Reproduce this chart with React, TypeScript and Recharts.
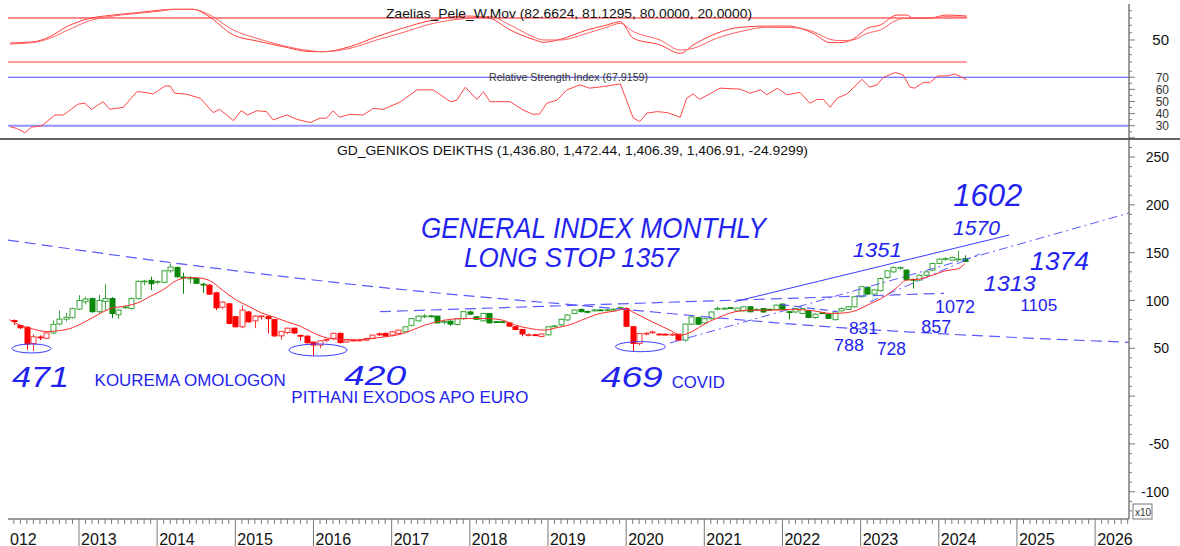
import React from "react";
import {
  Bar,
  ComposedChart,
  Line,
  ReferenceDot,
  ReferenceLine,
  XAxis,
  YAxis,
} from "recharts";

// months are counted from Jan 2013 (k = 0); first candle is Mar 2012
const firstMonth = -10;

// monthly candles [open, high, low, close], index level / 10
const ohlc: [number, number, number, number][] = [
  // 2012 (Mar - Dec)
  [79, 80, 74.5, 78], [73.9, 74.5, 70, 71.5], [72, 73, 48.5, 54.5], [55, 64.5, 47.1, 62],
  [61.8, 63.5, 58.5, 61.2], [60.5, 66.5, 59.5, 66], [66, 79, 65, 75], [75.5, 89.5, 74, 80.5],
  [80.5, 87, 78, 82.5], [82, 92.5, 81, 91.5],
  // 2013
  [91, 105.5, 90, 100], [98.6, 104, 96, 101.5], [102, 103, 87, 88.3], [88.3, 106, 86, 100],
  [99, 117, 89, 102], [102, 103.5, 81.5, 86.4], [85, 91, 81, 90], [92.5, 95, 91, 93.2],
  [91.5, 103, 90.5, 102], [102, 121, 101, 120], [119.5, 121.5, 116, 120.3], [121, 124.8, 110.8, 117.5],
  // 2014
  [119, 121, 117, 119.8], [119, 131.5, 118, 131], [131, 138.7, 129, 135], [134.5, 135.5, 124, 124.8],
  [124.5, 129, 107, 124], [123, 125.5, 118, 123.5], [123, 124, 117, 118], [117, 118.5, 108, 116.5],
  [116, 117, 106, 106.6], [108, 109, 90, 92.3], [93, 99, 91, 98.3], [96.5, 97.5, 75, 76],
  // 2015
  [83, 84, 72, 72.5], [72.5, 95, 71, 90], [88, 89, 77, 77.6], [78.7, 84.5, 71, 83.6],
  [83.5, 84.5, 80, 83.8], [83, 84, 65.5, 81], [80, 80.5, 62, 63], [63, 68, 59, 67.6],
  [66.5, 71.5, 65, 71], [71, 71.5, 65, 66], [63.5, 64, 58, 63.3], [62.7, 63.5, 55, 55.8],
  // 2016
  [56.4, 57, 42, 53.4], [53.4, 58.5, 50, 57.8], [58.8, 60.5, 56.5, 59.2], [60.4, 66.5, 59, 65.6],
  [65.6, 66.5, 55, 56], [56.6, 59.5, 55.5, 59], [58.6, 59.5, 57.5, 58.4], [58.4, 60, 57, 58.7],
  [58.5, 61, 57.5, 60.3], [60.4, 64.5, 59.5, 63.8], [65, 66.5, 63, 64.8], [65.6, 66.5, 62, 62.9],
  // 2017
  [63.8, 67.8, 62.5, 67.3], [65.6, 69.5, 64.5, 69], [67.3, 73, 66.5, 72.5], [74, 81.5, 73, 81],
  [78.7, 84.5, 78, 83.6], [83.5, 86, 81.5, 83.8], [83.8, 84.5, 82.5, 83.5], [83.6, 84, 76, 76.6],
  [77.6, 80, 75, 77.9], [78.4, 79, 73.5, 75.3], [74.8, 81.5, 74, 81], [81, 89, 80, 88.3],
  // 2018
  [88, 89.5, 85, 85.7], [83, 83.5, 79.5, 80.3], [78.7, 87, 78, 86.4], [86.4, 87, 76, 76.6],
  [77.8, 78.5, 76.5, 77.6], [77.7, 78, 76.8, 77.5], [76.6, 77, 72.5, 73.2], [72.5, 73, 69, 69.7],
  [69.7, 70, 62.5, 65], [64, 65.5, 62.5, 64.2], [64.1, 65, 63, 63.9], [62.4, 65.5, 61.5, 65],
  // 2019
  [64, 73, 63.5, 72.5], [73, 74.5, 72, 73.4], [74.4, 81, 73.5, 80.3], [79.6, 85.5, 79, 84.8],
  [86.4, 91, 85.5, 90], [90.6, 91.5, 87.5, 88.3], [88.5, 89.5, 86.5, 87.8], [89.8, 91, 88.5, 90],
  [90.1, 90.8, 89.3, 89.9], [89.9, 91.5, 88.8, 90.2], [90.6, 92, 89.5, 90.8], [92.4, 94, 91.5, 92.6],
  // 2020
  [91.5, 93, 72, 73], [72.5, 73.5, 46.9, 55.1], [55.1, 66, 53, 65.5], [65.3, 67, 63.5, 65.7],
  [66.8, 68.5, 65, 67.1], [64.8, 65.5, 64, 64.6], [64.7, 65.2, 63.8, 64.5], [64.4, 66, 63, 64.6],
  [64.7, 65, 57.5, 58.5], [58.5, 76, 57, 75.2], [75.2, 83.5, 74.5, 82.8], [82, 83, 74.5, 75.2],
  // 2021
  [76.6, 82, 75.5, 81], [81, 88.5, 80, 88], [91.4, 93.5, 89.5, 91.7], [91.5, 93, 90, 91.8],
  [92.4, 93, 91.5, 92.2], [89, 92.5, 88, 92], [89.2, 94, 88.5, 93.4], [93.4, 94, 87.5, 88.2],
  [90.4, 92, 89, 90.6], [91.5, 92, 87, 88], [90.7, 91.5, 89.8, 90.5], [90.6, 95.8, 90, 95.1],
  // 2022
  [96.2, 97, 90, 90.6], [88.2, 89, 80, 88], [88, 92, 87, 91.6], [86.4, 92, 85.5, 91.6],
  [89.2, 90, 81.5, 82.2], [82.2, 86.5, 81, 85.7], [87.1, 88, 86, 86.9], [85.7, 86.5, 80.5, 81.3],
  [80, 88.5, 79, 88], [89.2, 92.5, 88.5, 91.6], [90.6, 94, 90, 93.4], [93.4, 104.5, 92.5, 103.9],
  // 2023
  [103.9, 115, 103, 114.4], [113.7, 114.5, 106, 106.7], [106.7, 112, 105, 111], [110.3, 124, 109.5, 123],
  [124, 131.5, 123, 131], [129.9, 135.5, 129, 134.4], [134.3, 135.5, 132, 134.5], [131.7, 132.5, 121, 121.9],
  [122, 123, 112.5, 121.9], [121.3, 127, 120.5, 126.4], [126.4, 130.5, 125.5, 129.9], [131.7, 139.5, 131, 138.7],
  // 2024
  [138.7, 144, 138, 143.2], [143.8, 145, 141.5, 143.9], [142.2, 145.8, 141.5, 145], [143, 152, 141.5, 143.3],
  [143.68, 147.24, 140.64, 140.69],
];

// months where the system was long (green candles)
const upTrend: [number, number][] = [[-4, 19], [50, 65], [72, 83], [93, 136]];

// weighted moving average on the price panel [month, value]
const maPts: [number, number][] = [
  [-10.7, 80], [-9, 74], [-7, 70], [-5, 67.5], [-3, 68.5], [-1, 71.5], [1, 78], [3, 85.5],
  [5, 92], [7, 94], [9, 97.5], [11, 104.5], [13, 111.5], [15, 121], [17, 124], [19, 123],
  [20, 121], [22, 111], [24, 101], [26, 94], [28, 87], [30, 82.5], [32, 77.5], [34, 73],
  [36, 66], [38, 61], [40, 59.3], [42.5, 58.6], [45, 60.3], [47, 62], [49.5, 65], [51, 68.5],
  [53, 74], [55, 77.7], [57, 80.3], [60, 81.2], [63, 81], [65, 79.5], [67, 74.2], [69, 71],
  [71.5, 69], [73, 71], [75.5, 75], [77, 79], [80, 86.4], [82.5, 89.2], [84, 91.6], [85, 88],
  [88, 77.7], [90.7, 69], [92.4, 63.8], [94, 67.2], [96.2, 75.9], [98.4, 82.8], [100.6, 88],
  [103, 89.8], [106, 89.8], [110, 90.5], [112.7, 89.2], [115.5, 86.4], [117.7, 87.1],
  [119.4, 89.8], [121, 95.1], [123.2, 102.1], [125.4, 112.5], [127, 121.3], [128.7, 122],
  [131, 126.4], [133, 131], [135, 133.4], [136, 138.5],
];

// Zaelias_Pele W.Mov oscillator: [month, fast, slow]
const oscPts: [number, number, number][] = [
  [-10.6, 45.9, 44.5], [-7, 47.5, 46.5], [-4.5, 54.5, 52.3], [-1.9, 68, 62.7], [1.7, 79.6, 76.4],
  [4.8, 83.6, 82.2], [8.3, 86.7, 85.8], [12, 90.3, 88.9], [14.5, 92, 91.6], [17.5, 92, 91.8],
  [19.6, 84, 86.3], [23.7, 56.8, 63.6], [27.3, 48.6, 52.3], [31.3, 41, 42.2], [35.5, 34.1, 35.4],
  [37.5, 34, 34], [41.6, 41, 38.6], [45.7, 54.5, 50], [49.3, 65, 59], [54.4, 77.3, 72.7],
  [59.5, 82.7, 79.5], [63.1, 79.5, 81.8], [66.2, 63.6, 70.4], [69.7, 50.9, 54.5], [71.3, 46.8, 50],
  [73.9, 50.9, 50], [78, 63.6, 59.1], [81, 70.4, 67.3], [83.1, 75, 72.7], [85.1, 52.3, 61.4],
  [89.2, 43.2, 50], [92.3, 31.8, 36.3], [94.3, 43.2, 38.6], [97.9, 59.1, 52.3], [101.5, 67.3, 61.4],
  [105.6, 69, 67.3], [109, 69, 67], [110.7, 66, 66], [112.7, 59.1, 61.4], [115.3, 46.4, 50.9],
  [116.8, 46.4, 49.1], [118.8, 50.9, 50], [121, 65.9, 59.1], [123, 70.4, 63.6], [125.6, 84, 77.3],
  [127.1, 84, 79.5], [128.1, 79.5, 79.5], [130.7, 80, 80], [133.2, 84, 81.8], [136.3, 82.66, 81.13],
];

// Relative Strength Index [month, value]
const rsiPts: [number, number][] = [
  [-10.6, 29.2], [-9.6, 27.8], [-8.3, 24.2], [-7.3, 28.7], [-5.7, 30], [-3.7, 38.8], [-2.4, 38.8],
  [-0.1, 47.9], [0.9, 48.5], [1.9, 43.5], [3.7, 49.8], [4.7, 43.5], [6.8, 45.2], [8.9, 58.2],
  [10.4, 57.3], [11.4, 56.2], [13.2, 62.8], [14, 62.8], [14.7, 56.8], [16.5, 56], [18.6, 52.7],
  [20.6, 40.8], [21.6, 43.5], [23.7, 34.2], [24.9, 42.4], [25.9, 38.8], [27.3, 42.4], [28.8, 41.6],
  [29.8, 34.8], [31.9, 38.8], [33.4, 35.3], [35.5, 32.6], [37, 36.2], [38, 36.2], [39, 42.2],
  [40, 37], [41.6, 39.4], [43.6, 38.8], [45.2, 44.3], [46.7, 43.5], [49.3, 49.5], [51.9, 59.6],
  [54.4, 59.6], [57, 49.8], [58, 51], [59.3, 61.8], [61.1, 51.7], [62.1, 58], [63.1, 49.8],
  [66.2, 49.8], [68.2, 42.9], [69.7, 39.4], [70.7, 39.6], [71.8, 48.5], [73.4, 51.2], [74.9, 59.6],
  [76.9, 63.7], [78.4, 61], [80.5, 62.3], [83.1, 64.5], [85.1, 36.2], [86.1, 33.5], [87.2, 40.4],
  [88.8, 41.6], [90.3, 40.8], [92.3, 37], [93.3, 52.7], [94.3, 56.2], [95.3, 51.7], [98.4, 61],
  [101.5, 60.2], [103, 56.8], [104.6, 59.6], [105.6, 55.5], [107.2, 61], [108.7, 55.5], [110.7, 57.5],
  [112.2, 48.5], [113.3, 51.7], [114.3, 51.7], [115.3, 45.2], [116.4, 52.7], [117.9, 56.2],
  [120.2, 68.3], [121.4, 61.8], [122.5, 63.7], [123.5, 70], [125.3, 73.9], [126.5, 72], [127.6, 61.8],
  [128.3, 61], [129.6, 65.6], [130.6, 65.6], [131.9, 71.1], [133.2, 71.1], [134.5, 72.7], [136.3, 67.9],
];

const yearLabels = ["2012", "2013", "2014", "2015", "2016", "2017", "2018", "2019", "2020", "2021", "2022", "2023", "2024", "2025", "2026"];

// hand-drawn trend lines [month, value]
const trendDown: [number, number][] = [[-10.9, 163.2], [14.6, 139.2], [45.9, 114], [79.7, 93.1], [115.6, 72.2], [161.2, 56.2]];
const rangeTop: [number, number][] = [[46.2, 88.3], [132.8, 107.5]];
const channelTop: [number, number][] = [[100.6, 98.7], [142.8, 168.4]];
const covidSupport: [number, number][] = [[90.7, 55.5], [161.2, 191.4]];
const shortSupport: [number, number][] = [[121.4, 98.4], [138.3, 148.6]];
const wedgeTop: [number, number][] = [[107.8, 95.7], [116.5, 88.3]];

const lowMarks = [
  { k: -7.3, v: 49.8, rx: 19.5, ry: 4.5 },
  { k: 36.7, v: 48.2, rx: 29, ry: 6 },
  { k: 86.2, v: 51.7, rx: 25, ry: 5 },
];

const notes = [
  { text: "GENERAL INDEX MONTHLY", k: 52.5, v: 165.3, size: 30, len: 345, hand: true },
  { text: "LONG STOP 1357", k: 59.1, v: 135.5, size: 28, len: 215, hand: true },
  { text: "1602", k: 134.2, v: 198.3, size: 32, len: 69, hand: true },
  { text: "1570", k: 134.2, v: 168.5, size: 20, len: 47, hand: true },
  { text: "1351", k: 118.8, v: 145.5, size: 21, len: 49, hand: true },
  { text: "1374", k: 146, v: 131.9, size: 26, len: 59, hand: true },
  { text: "1313", k: 138.9, v: 109.4, size: 22, len: 52, hand: true },
  { text: "1072", k: 131.4, v: 87.2, size: 18, len: 40, hand: false },
  { text: "1105", k: 144.5, v: 89.3, size: 17, len: 37, hand: false },
  { text: "831", k: 118.2, v: 65, size: 17, len: 29, hand: false },
  { text: "857", k: 129.3, v: 66.3, size: 18, len: 30, hand: false },
  { text: "788", k: 115.9, v: 47.2, size: 17, len: 30, hand: false },
  { text: "728", k: 122.5, v: 43, size: 17.5, len: 29, hand: false },
  { text: "471", k: -10.3, v: 9.5, size: 30, len: 57, hand: true },
  { text: "KOUREMA OMOLOGON", k: 2.4, v: 10.6, size: 16, len: 191, hand: false },
  { text: "420", k: 40.7, v: 11.6, size: 28, len: 62, hand: true },
  { text: "PITHANI EXODOS APO EURO", k: 32.6, v: -7.5, size: 16, len: 237, hand: false },
  { text: "469", k: 80.1, v: 9.5, size: 30, len: 62, hand: true },
  { text: "COVID", k: 91, v: 8.5, size: 16, len: 53, hand: false },
];

const X_DOMAIN: [number, number] = [-10.9, 161.2];
const FONT = '"Liberation Sans", Arial, sans-serif';
const HAND = '"Liberation Sans Narrow", "Liberation Sans", sans-serif';
const BLUE = "#2323f0";
const AXIS = "#7a7a7a";
const BODY_W = 5;

const candles = ohlc.map(([open, high, low, close], i) => ({ k: firstMonth + i, open, high, low, close }));
const maData = maPts.map(([k, v]) => ({ k, v }));
const oscData = oscPts.map(([k, fast, slow]) => ({ k, fast, slow }));
const rsiData = rsiPts.map(([k, v]) => ({ k, v }));
const toPts = (pts: [number, number][]) => pts.map(([k, v]) => ({ k, v }));

const range = (a: number, b: number, s: number) => {
  const out: number[] = [];
  for (let v = a; v <= b + 1e-9; v += s) out.push(v);
  return out;
};
const xTicks = [X_DOMAIN[0], ...range(-10, 161, 1)];

function Candle(props: any) {
  const { x, y, width, height } = props;
  const d = props.payload ?? props;
  const up = upTrend.some(([a, b]) => d.k >= a && d.k <= b);
  const solid = up ? "#0a870a" : "#ff0000";
  const line = up ? "#3aa53a" : "#ff3535";
  const span = d.high - d.low || 1;
  const py = (v: number) => y + ((d.high - v) / span) * height;
  const cx = Math.round(x + width / 2) + 0.5;
  const top = py(Math.max(d.open, d.close));
  const bot = py(Math.min(d.open, d.close));
  const rising = d.close > d.open;
  return (
    <g>
      <line x1={cx} x2={cx} y1={y} y2={y + height} stroke={rising ? line : solid} strokeWidth={1} />
      <rect
        x={cx - BODY_W / 2}
        y={top}
        width={BODY_W}
        height={Math.max(bot - top, 0.8)}
        fill={rising ? "#fff" : solid}
        stroke={rising ? line : solid}
        strokeWidth={1}
      />
    </g>
  );
}

function rightTick(isMajor: (v: number) => boolean, label: (v: number) => string, size: number, color: string) {
  return (p: any) => {
    const v = p.payload.value;
    const major = isMajor(v);
    const lab = label(v);
    return (
      <g>
        <line x1={p.x} x2={p.x + (major ? 6 : 3)} y1={p.y} y2={p.y} stroke={AXIS} />
        {lab ? (
          <text x={p.x + 40} y={p.y + size * 0.36} textAnchor="end" fontSize={size} fill={color} fontFamily={FONT}>
            {lab}
          </text>
        ) : null}
      </g>
    );
  };
}

function XTick(p: any) {
  const v = p.payload.value;
  if (!Number.isInteger(v)) {
    return (
      <text x={p.x + 2} y={p.y + 25.5} fontSize={16} fill="#111" fontFamily={FONT}>
        {yearLabels[0].slice(1)}
      </text>
    );
  }
  const isYear = v % 12 === 0;
  return (
    <g>
      <line x1={p.x} x2={p.x} y1={p.y} y2={p.y + (isYear ? 27 : 5)} stroke={AXIS} />
      {isYear ? (
        <text x={p.x + 2} y={p.y + 25.5} fontSize={16} fill="#111" fontFamily={FONT}>
          {yearLabels[v / 12 + 1]}
        </text>
      ) : null}
    </g>
  );
}

const margin = { top: 0, right: 0, bottom: 0, left: 8 };

export default function App() {
  return (
    <div style={{ position: "fixed", left: 0, top: 0, width: 1180, height: 546, background: "#fff", overflow: "hidden", fontFamily: FONT }}>
      {/* oscillator panel */}
      <div style={{ position: "absolute", left: 0, top: 4 }}>
        <ComposedChart width={1180} height={62} data={oscData} margin={margin}>
          <XAxis dataKey="k" type="number" domain={X_DOMAIN} allowDataOverflow hide />
          <YAxis
            orientation="right"
            width={51}
            domain={[14.5, 99.1]}
            allowDataOverflow
            ticks={range(20, 90, 10)}
            interval={0}
            tickSize={0}
            tickMargin={0}
            tickLine={false}
            axisLine={{ stroke: AXIS, strokeWidth: 1.5 }}
            tick={rightTick((v) => v === 50, (v) => (v === 50 ? "50" : ""), 15, "#111")}
          />
          <ReferenceLine segment={[{ x: X_DOMAIN[0], y: 80 }, { x: 136.3, y: 80 }]} stroke="#ff1a1a" strokeWidth={1} />
          <ReferenceLine segment={[{ x: X_DOMAIN[0], y: 20 }, { x: 136.3, y: 20 }]} stroke="#ff7a7a" strokeWidth={1.5} />
          <Line dataKey="fast" type="monotone" stroke="#ff3a3a" strokeWidth={1} dot={false} isAnimationActive={false} />
          <Line dataKey="slow" type="monotone" stroke="#ff6060" strokeWidth={1} dot={false} isAnimationActive={false} />
        </ComposedChart>
      </div>

      {/* RSI panel */}
      <div style={{ position: "absolute", left: 0, top: 66 }}>
        <ComposedChart width={1180} height={73} data={rsiData} margin={margin}>
          <XAxis dataKey="k" type="number" domain={X_DOMAIN} allowDataOverflow hide />
          <YAxis
            orientation="right"
            width={51}
            domain={[19, 79.3]}
            allowDataOverflow
            ticks={range(20, 75, 5)}
            interval={0}
            tickSize={0}
            tickMargin={0}
            tickLine={false}
            axisLine={{ stroke: AXIS, strokeWidth: 1.5 }}
            tick={rightTick(
              (v) => v % 10 === 0,
              (v) => (v >= 30 && v <= 70 && v % 10 === 0 ? String(v) : ""),
              12,
              "#333"
            )}
          />
          <ReferenceLine y={70} stroke="#4a4aff" strokeWidth={1} />
          <ReferenceLine y={30} stroke="#9292ff" strokeWidth={2} />
          <Line dataKey="v" type="linear" stroke="#ff4545" strokeWidth={1} dot={false} isAnimationActive={false} />
        </ComposedChart>
      </div>

      {/* price panel */}
      <div style={{ position: "absolute", left: 0, top: 140 }}>
        <ComposedChart width={1180} height={406} data={candles} margin={margin}>
          <XAxis
            dataKey="k"
            type="number"
            domain={X_DOMAIN}
            allowDataOverflow
            ticks={xTicks}
            interval={0}
            tickSize={0}
            tickMargin={0}
            tickLine={false}
            height={27}
            axisLine={{ stroke: AXIS, strokeWidth: 1.5 }}
            tick={XTick}
          />
          <YAxis
            orientation="right"
            width={51}
            domain={[-128.5, 267.8]}
            allowDataOverflow
            ticks={range(-120, 260, 10)}
            interval={0}
            tickSize={0}
            tickMargin={0}
            tickLine={false}
            axisLine={{ stroke: AXIS, strokeWidth: 1.5 }}
            tick={rightTick((v) => v % 50 === 0, (v) => (v % 50 === 0 && v !== 0 ? String(v) : ""), 14, "#111")}
          />
          <Line data={toPts(trendDown)} dataKey="v" type="monotone" stroke="#5a5aff" strokeWidth={1.2} strokeDasharray="11 6" dot={false} isAnimationActive={false} />
          <Line data={toPts(rangeTop)} dataKey="v" type="linear" stroke="#5a5aff" strokeWidth={1.2} strokeDasharray="11 6" dot={false} isAnimationActive={false} />
          <Line data={toPts(wedgeTop)} dataKey="v" type="linear" stroke="#5a5aff" strokeWidth={1.2} strokeDasharray="8 5" dot={false} isAnimationActive={false} />
          <Line data={toPts(channelTop)} dataKey="v" type="linear" stroke="#3c3cff" strokeWidth={1} dot={false} isAnimationActive={false} />
          <Line data={toPts(covidSupport)} dataKey="v" type="linear" stroke="#5a5aff" strokeWidth={1} strokeDasharray="9 4 2 4" dot={false} isAnimationActive={false} />
          <Line data={toPts(shortSupport)} dataKey="v" type="linear" stroke="#5a5aff" strokeWidth={1} strokeDasharray="9 4 2 4" dot={false} isAnimationActive={false} />
          <Bar dataKey={(d: any) => [d.low, d.high]} barSize={5} isAnimationActive={false} shape={(p: any) => <Candle {...p} />} />
          <Line data={maData} dataKey="v" type="monotone" stroke="#ff2a2a" strokeWidth={1} dot={false} isAnimationActive={false} />
          {lowMarks.map((m, i) => (
            <ReferenceDot
              key={"e" + i}
              x={m.k}
              y={m.v}
              r={1}
              shape={(p: any) => <ellipse cx={p.cx} cy={p.cy} rx={m.rx} ry={m.ry} fill="none" stroke="#3a3aff" strokeWidth={1} />}
            />
          ))}
          {notes.map((n, i) => (
            <ReferenceDot
              key={"n" + i}
              x={n.k}
              y={n.v}
              r={1}
              shape={(p: any) => (
                <text
                  x={p.cx}
                  y={p.cy}
                  fontSize={n.size}
                  fill={BLUE}
                  fontFamily={n.hand ? HAND : FONT}
                  fontStyle={n.hand ? "italic" : "normal"}
                  textLength={n.len}
                  lengthAdjust="spacingAndGlyphs"
                >
                  {n.text}
                </text>
              )}
            />
          ))}
        </ComposedChart>
      </div>

      {/* titles, divider and scale box */}
      <svg width={1180} height={546} style={{ position: "absolute", left: 0, top: 0, pointerEvents: "none" }}>
        <text x={386} y={18} fontSize={13.5} fill="#111" fontFamily={FONT} textLength={366} lengthAdjust="spacingAndGlyphs">
          Zaelias_Pele_W.Mov (82.6624, 81.1295, 80.0000, 20.0000)
        </text>
        <text x={489} y={80.5} fontSize={10.5} fill="#333" fontFamily={FONT} textLength={159} lengthAdjust="spacingAndGlyphs">
          Relative Strength Index (67.9159)
        </text>
        <line x1={0} x2={1180} y1={139} y2={139} stroke="#333" strokeWidth={1.5} />
        <text x={337} y={155} fontSize={13.5} fill="#111" fontFamily={FONT} textLength={471} lengthAdjust="spacingAndGlyphs">
          GD_GENIKOS DEIKTHS (1,436.80, 1,472.44, 1,406.39, 1,406.91, -24.9299)
        </text>
        <rect x={1133} y={504} width={19} height={15} fill="#fff" stroke="#777" strokeWidth={1} />
        <text x={1135} y={515.5} fontSize={10} fill="#333" fontFamily={FONT}>
          x10
        </text>
      </svg>
    </div>
  );
}
